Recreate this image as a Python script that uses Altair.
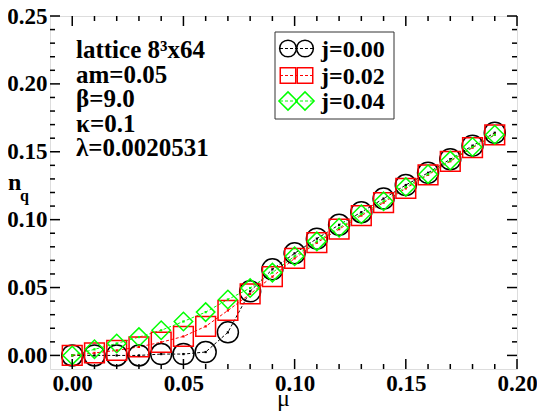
import altair as alt
import pandas as pd

# ---- data ----
mu = [0.00, 0.01, 0.02, 0.03, 0.04, 0.05, 0.06, 0.07, 0.08, 0.09,
      0.10, 0.11, 0.12, 0.13, 0.14, 0.15, 0.16, 0.17, 0.18, 0.19]
n_j000 = [0.000, 0.000, 0.000, 0.000, 0.001, 0.001, 0.0025, 0.0170, 0.0472, 0.0634,
          0.0752, 0.0860, 0.0962, 0.1055, 0.1155, 0.1255, 0.1345, 0.1445, 0.1545, 0.1640]
n_j002 = [0.000, 0.0018, 0.0037, 0.0063, 0.0097, 0.0140, 0.0214, 0.0331, 0.0453, 0.0580,
          0.0715, 0.0830, 0.0930, 0.1030, 0.1125, 0.1230, 0.1330, 0.1430, 0.1530, 0.1625]
n_j004 = [0.000, 0.0045, 0.0088, 0.0135, 0.0185, 0.0250, 0.0319, 0.0412, 0.0496, 0.0610,
          0.0730, 0.0840, 0.0940, 0.1040, 0.1135, 0.1240, 0.1335, 0.1435, 0.1535, 0.1625]

series = ["j=0.00", "j=0.02", "j=0.04"]
colors = ["#000000", "#ff0000", "#00ff00"]
shapes = ["circle", "square", "diamond"]
marker_sizes = [441, 340, 530]
legend_sizes = [280, 240, 330]

x_major = [0.00, 0.05, 0.10, 0.15, 0.20]
x_minor = [0.01, 0.02, 0.03, 0.04, 0.06, 0.07, 0.08, 0.09,
           0.11, 0.12, 0.13, 0.14, 0.16, 0.17, 0.18, 0.19]
y_major = [0.00, 0.05, 0.10, 0.15, 0.20, 0.25]
y_minor = [0.01, 0.02, 0.03, 0.04, 0.06, 0.07, 0.08, 0.09, 0.11, 0.12, 0.13, 0.14,
           0.16, 0.17, 0.18, 0.19, 0.21, 0.22, 0.23, 0.24]

info_lines = ["lattice 8\u00b3x64", "am=0.05", "\u03b2=9.0", "\u03ba=0.1", "\u03bb=0.0020531"]

# ---- layout ----
W, H = 467, 353
FONT = "Liberation Serif"

rows = []
for s, vals in zip(series, [n_j000, n_j002, n_j004]):
    for m, v in zip(mu, vals):
        rows.append({"mu": m, "n": v, "series": s})
df = pd.DataFrame(rows)

xs = alt.Scale(domain=[-0.01, 0.20], nice=False, zero=False)
ys = alt.Scale(domain=[-0.01, 0.25], nice=False, zero=False)

ax_common = dict(ticks=False, tickSize=0, domain=False, grid=False, labelFont=FONT,
                 labelFontWeight="bold", labelFontSize=23, labelColor="black",
                 title=None, labelOverlap=False, labelFlush=False)
x_axis = alt.Axis(values=x_major, format=".2f", labelPadding=3, **ax_common)
y_axis = alt.Axis(values=y_major, format=".2f", labelPadding=3, **ax_common)

color_enc = alt.Color("series:N", scale=alt.Scale(domain=series, range=colors), legend=None)
base = alt.Chart(df).encode(
    x=alt.X("mu:Q", scale=xs, axis=x_axis),
    y=alt.Y("n:Q", scale=ys, axis=y_axis),
    color=color_enc,
)

lines = base.mark_line(strokeWidth=1, strokeDash=[3, 2])
points = base.mark_point(filled=False, strokeWidth=1.5, opacity=1).encode(
    shape=alt.Shape("series:N", scale=alt.Scale(domain=series, range=shapes), legend=None),
    size=alt.Size("series:N", scale=alt.Scale(domain=series, range=marker_sizes), legend=None),
)
dots = base.mark_point(filled=True, shape="square", size=5, opacity=1)

one = pd.DataFrame({"a": [0]})


def xticks(vals, length):
    d = pd.DataFrame({"mu": vals})
    b = alt.Chart(d).mark_rule(color="black", strokeWidth=1.5)
    bottom = b.encode(x=alt.X("mu:Q", scale=xs, axis=x_axis), y=alt.value(H), y2=alt.value(H - length))
    top = b.encode(x=alt.X("mu:Q", scale=xs, axis=x_axis), y=alt.value(0), y2=alt.value(length))
    return [bottom, top]


def yticks(vals, length):
    d = pd.DataFrame({"n": vals})
    b = alt.Chart(d).mark_rule(color="black", strokeWidth=1.5)
    left = b.encode(y=alt.Y("n:Q", scale=ys, axis=y_axis), x=alt.value(0), x2=alt.value(length))
    right = b.encode(y=alt.Y("n:Q", scale=ys, axis=y_axis), x=alt.value(W), x2=alt.value(W - length))
    return [left, right]


tick_layers = xticks(x_major, 10) + xticks(x_minor, 5) + yticks(y_major, 10) + yticks(y_minor, 5)

# annotation block
info = alt.Chart(one).mark_text(
    text=info_lines, font=FONT, fontWeight="bold", fontSize=25, align="left",
    baseline="alphabetic", lineHeight=24.6, color="black"
).encode(x=alt.value(26), y=alt.value(42))

# axis titles
mu_title = alt.Chart(one).mark_text(
    text="\u03bc", font=FONT, fontSize=24, align="center", baseline="alphabetic", color="black"
).encode(x=alt.value(W / 2), y=alt.value(H + 37))
n_title = alt.Chart(one).mark_text(
    text="n", font=FONT, fontWeight="bold", fontSize=24, align="left", baseline="alphabetic", color="black"
).encode(x=alt.value(-42), y=alt.value(174))
q_sub = alt.Chart(one).mark_text(
    text="q", font=FONT, fontWeight="bold", fontSize=16, align="left", baseline="alphabetic", color="black"
).encode(x=alt.value(-30), y=alt.value(185))

# legend (drawn manually)
LX0, LX1, LY0, LY1 = 225, 344, 16, 103
legend_box = alt.Chart(one).mark_rect(filled=True, fill="white", stroke="#333333", strokeWidth=1).encode(
    x=alt.value(LX0), x2=alt.value(LX1), y=alt.value(LY0), y2=alt.value(LY1)
)
legend_layers = [legend_box]
row_y = [32.5, 59.5, 85]
for s, c, sh, sz, ry in zip(series, colors, shapes, legend_sizes, row_y):
    legend_layers.append(alt.Chart(one).mark_rule(color=c, strokeWidth=1, strokeDash=[3, 2]).encode(
        x=alt.value(230), x2=alt.value(263), y=alt.value(ry)))
    for px in (238, 255):
        legend_layers.append(alt.Chart(one).mark_point(
            shape=sh, size=sz, color=c, filled=False, strokeWidth=1.5, opacity=1
        ).encode(x=alt.value(px), y=alt.value(ry)))
    legend_layers.append(alt.Chart(one).mark_text(
        text=s, font=FONT, fontWeight="bold", fontSize=24, align="left", baseline="middle", color="black"
    ).encode(x=alt.value(271), y=alt.value(ry + 1)))

chart = alt.layer(
    lines, points, dots, *tick_layers, info, mu_title, n_title, q_sub, *legend_layers
).properties(
    width=W, height=H,
    autosize=alt.AutoSizeParams(type="none"),
    padding={"left": 42, "top": 8, "right": 20, "bottom": 42},
).configure_view(stroke="black", strokeWidth=2).configure(background="white")

chart.save("out.html", embed_options={"renderer": "svg", "actions": False})
